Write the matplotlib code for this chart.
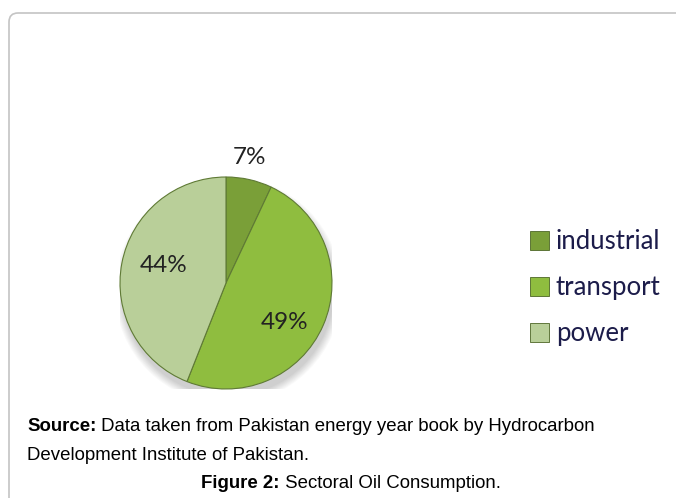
import matplotlib
matplotlib.use("Agg")
import matplotlib.pyplot as plt
import numpy as np
from matplotlib.patches import FancyBboxPatch, Ellipse
from matplotlib import font_manager

categories = ["industrial", "transport", "power"]
values = [7, 49, 44]
pct_labels = ["7%", "49%", "44%"]
colors = ["#7a9f38", "#8fbd3f", "#b9cf99"]
label_dist = [1.2, 0.67, 0.61]
label_ang_off = [2, -10.5, -5]

W, H = 676, 498
fig = plt.figure(figsize=(W / 100, H / 100), dpi=100)
fig.patch.set_facecolor("white")

# rounded frame (display coords, origin bottom-left)
frame = FancyBboxPatch((9, -40), 720, (H - 13) + 40, boxstyle="round,pad=0,rounding_size=9",
                       transform=None, fill=False, edgecolor="#c4c4c4", linewidth=1.2,
                       clip_on=False)
fig.patches.append(frame)

cx, cy, r = 226, 283, 106
ax = fig.add_axes([(cx - r) / W, (H - cy - r) / H, 2 * r / W, 2 * r / H])
ax.axis("off")

# soft shadow
for i in range(8):
    e = Ellipse((0.02, -0.07), 2.0 + 0.02 * i, 2.0 + 0.02 * i, facecolor="#000000",
                alpha=0.025, edgecolor="none", zorder=0)
    ax.add_patch(e)

wedges, _ = ax.pie(values, colors=colors, startangle=90, counterclock=False,
                   radius=1.0, wedgeprops=dict(edgecolor="#5f7a35", linewidth=0.8))
for w in wedges:
    w.set_zorder(2)
ax.set_xlim(-1, 1)
ax.set_ylim(-1, 1)
ax.set_aspect("equal")

for w, lab, d, off in zip(wedges, pct_labels, label_dist, label_ang_off):
    ang = np.deg2rad((w.theta1 + w.theta2) / 2 + off)
    ax.text(d * np.cos(ang), d * np.sin(ang), lab, ha="center", va="center",
            fontsize=17.5, color="#222222", family="Lato", zorder=3)

# legend
handles = [plt.Rectangle((0, 0), 1, 1, facecolor=c, edgecolor="#4d6626", linewidth=0.6)
           for c in colors]
leg = fig.legend(handles, categories, loc="upper left",
                 bbox_to_anchor=(507 / W, 1 - 206 / H), frameon=False,
                 prop=dict(family="Lato", size=18.5), labelspacing=0.82,
                 handlelength=0.75, handleheight=0.75, handletextpad=0.25)
for t in leg.get_texts():
    t.set_color("#1c1c4a")

# caption
names = {f.name for f in font_manager.fontManager.ttflist}
cap_fam = ["Liberation Sans Narrow"] if "Liberation Sans Narrow" in names else ["Liberation Sans"]
fs = 16 if cap_fam[0] == "Liberation Sans Narrow" else 13.4

fig.canvas.draw()
renderer = fig.canvas.get_renderer()

def rich(x_px, y_px, parts, ha="left"):
    texts = []
    for s, bold in parts:
        t = fig.text(0, 1 - y_px / H, s, fontsize=fs, family=cap_fam,
                     fontweight="bold" if bold else "normal", va="center", ha="left")
        texts.append(t)
    widths = [t.get_window_extent(renderer).width for t in texts]
    total = sum(widths)
    x0 = x_px if ha == "left" else x_px - total / 2
    for t, wd in zip(texts, widths):
        t.set_x(x0 / W)
        x0 += wd

rich(27, 426, [("Source:", True), (" Data taken from Pakistan energy year book by Hydrocarbon", False)])
rich(27, 455, [("Development Institute of Pakistan.", False)])
rich(351, 483, [("Figure 2:", True), (" Sectoral Oil Consumption.", False)], ha="center")

fig.savefig("out.png", dpi=100)
